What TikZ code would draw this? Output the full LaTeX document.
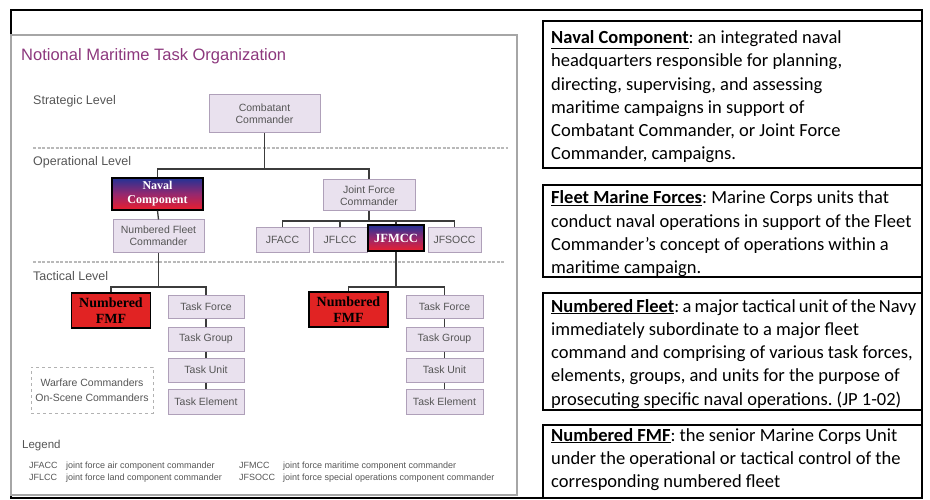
\documentclass[tikz,border=0pt]{standalone}
\usepackage{fontspec}
\setmainfont{Liberation Sans}
\newfontfamily\calib{Carlito}
\newfontfamily\tms{Liberation Serif}
\definecolor{boxfill}{RGB}{233,225,238}
\definecolor{boxdraw}{RGB}{175,160,185}
\definecolor{txtgray}{RGB}{85,85,85}
\definecolor{linegray}{RGB}{60,60,60}
\definecolor{titlepurple}{RGB}{140,55,125}
\definecolor{fmfred}{RGB}{225,35,35}
\definecolor{gblue}{RGB}{35,50,150}
\definecolor{gred}{RGB}{235,30,45}
\definecolor{gmid}{RGB}{150,40,110}
\tikzset{
  pbox/.style={draw=boxdraw, fill=boxfill, line width=1pt, text=txtgray,
    font=\fontsize{10.5}{12}\selectfont, align=center, inner sep=0pt},
  gbox/.style={draw=black, line width=1.2pt, top color=gblue, bottom color=gred,
    middle color=gmid, text=white, font=\tms\bfseries\fontsize{12}{14}\selectfont,
    align=center, inner sep=0pt},
  rbox/.style={draw=black, line width=1.2pt, fill=fmfred, text=black,
    font=\tms\bfseries\fontsize{14}{15.5}\selectfont, align=center, inner sep=0pt},
  conn/.style={draw=linegray, line width=1.3pt},
  defbox/.style={draw=black, line width=1.8pt},
  lvl/.style={anchor=base west, text=txtgray, font=\fontsize{12.5}{14}\selectfont, inner sep=0pt},
  leg/.style={anchor=base west, text=txtgray, font=\fontsize{9}{10}\selectfont, inner sep=0pt},
  sep/.style={draw=gray!55, line width=1.4pt, dash pattern=on 3pt off 1.5pt},
  deftext/.style={anchor=base west, inner sep=0pt, font=\calib\fontsize{18.5}{23.3}\selectfont}
}
\newcommand{\deftxt}[1]{\parbox[t]{420pt}{\frenchspacing\raggedright #1}}
\begin{document}
\begin{tikzpicture}[x=1pt,y=-1pt]
\useasboundingbox (0,0) rectangle (930,500);
% frames
\draw[black, line width=1.2pt] (11,10) rectangle (922,498);
\draw[gray!70, line width=1.3pt] (11,35) rectangle (517,495);

% title and levels
\node[anchor=base west, text=titlepurple, font=\fontsize{16.5}{18}\selectfont, inner sep=0pt] (title) at (21,61) {Notional Maritime Task Organization};
\node[lvl] (lstrat) at (33,105) {Strategic Level};
\node[lvl] (loper) at (33,166) {Operational Level};
\node[lvl] (ltact) at (33,280) {Tactical Level};
\draw[sep] (33,148) -- (508,148);
\draw[sep] (33,262) -- (505,262);

% boxes
\node[pbox, minimum width=111pt, minimum height=38pt] (cc) at (264.5,114) {Combatant\\Commander};
\node[gbox, minimum width=91pt, minimum height=32pt] (nc) at (157.5,194) {Naval\\Component};
\node[pbox, minimum width=92pt, minimum height=31pt] (jfc) at (369,195.5) {Joint Force\\Commander};
\node[pbox, minimum width=91pt, minimum height=32pt] (nfc) at (158.5,236) {Numbered Fleet\\Commander};
\node[pbox, minimum width=53pt, minimum height=24pt] (jfacc) at (282.5,240) {JFACC};
\node[pbox, minimum width=54pt, minimum height=24pt] (jflcc) at (340,240) {JFLCC};
\node[gbox, minimum width=56pt, minimum height=26pt, font=\tms\bfseries\fontsize{12.5}{14}\selectfont] (jfmcc) at (396,238) {JFMCC};
\node[pbox, minimum width=53pt, minimum height=24pt] (jfsocc) at (454.5,240) {JFSOCC};

\node[rbox, minimum width=79pt, minimum height=35pt] (fmfa) at (111,310.5) {Numbered\\FMF};
\node[pbox, minimum width=76pt, minimum height=23pt] (tfa) at (206,306.5) {Task Force};
\node[pbox, minimum width=76pt, minimum height=24pt] (tga) at (206,339) {Task Group};
\node[pbox, minimum width=76pt, minimum height=24pt] (tua) at (206,370) {Task Unit};
\node[pbox, minimum width=76pt, minimum height=25pt] (tea) at (206,401.5) {Task Element};

\node[rbox, minimum width=79pt, minimum height=35pt] (fmfb) at (348.5,309.5) {Numbered\\FMF};
\node[pbox, minimum width=77pt, minimum height=23pt] (tfb) at (444.5,306.5) {Task Force};
\node[pbox, minimum width=77pt, minimum height=24pt] (tgb) at (444.5,339) {Task Group};
\node[pbox, minimum width=77pt, minimum height=24pt] (tub) at (444.5,370) {Task Unit};
\node[pbox, minimum width=77pt, minimum height=25pt] (teb) at (444.5,401.5) {Task Element};

\node[draw=gray!60, dashed, line width=1pt, minimum width=122pt, minimum height=46pt, text=txtgray,
  font=\fontsize{10.5}{15}\selectfont, align=center, inner sep=0pt] (warf) at (92,390) {Warfare Commanders\\On-Scene Commanders};

% connectors
\coordinate (b1) at (264.5,169);
\coordinate (b2) at (369,221);
\coordinate (b3) at (158.5,287);
\coordinate (b4) at (396,287);
\draw[conn] (cc.south) -- (b1);
\draw[conn] (nc.north) |- (b1) -| (jfc.north);
\draw[conn] (nc.south) -- (nfc.north);
\draw[conn] (jfc.south) -- (b2);
\draw[conn] (jfacc.north) |- (b2) -| (jfsocc.north);
\draw[conn] (jflcc.north) -- (jflcc.north |- b2);
\draw[conn] (jfmcc.north) -- (jfmcc.north |- b2);
\draw[conn] (nfc.south) -- (b3);
\draw[conn] (fmfa.north) |- (b3) -| (tfa.north);
\draw[conn] (tfa.south) -- (tga.north);
\draw[conn] (tga.south) -- (tua.north);
\draw[conn] (tua.south) -- (tea.north);
\draw[conn] (jfmcc.south) -- (b4);
\draw[conn] (fmfb.north) |- (b4) -| (tfb.north);
\draw[conn] (tfb.south) -- (tgb.north);
\draw[conn] (tgb.south) -- (tub.north);
\draw[conn] (tub.south) -- (teb.north);

% legend
\node[anchor=base west, text=txtgray, font=\fontsize{11.5}{13}\selectfont, inner sep=0pt] (legend) at (22,448) {Legend};
\node[leg] (l1a) at (29,468) {JFACC};
\node[leg] (l1b) at (66,468) {joint force air component commander};
\node[leg] (l2a) at (29,480) {JFLCC};
\node[leg] (l2b) at (66,480) {joint force land component commander};
\node[leg] (l3a) at (239,468) {JFMCC};
\node[leg] (l3b) at (283,468) {joint force maritime component commander};
\node[leg] (l4a) at (239,480) {JFSOCC};
\node[leg] (l4b) at (283,480) {joint force special operations component commander};

% definition boxes
\draw[defbox] (543,21) rectangle (922,168);
\draw[defbox] (543,185) rectangle (922,277);
\draw[defbox] (543,293) rectangle (922,410);
\draw[defbox] (543,425) rectangle (922,498);
\node[deftext] (d1) at (551,43.5) {\deftxt{\textbf{\underline{Naval Component}}: an integrated naval\\
headquarters responsible for planning,\\
directing, supervising, and assessing\\
maritime campaigns in support of\\
Combatant Commander, or Joint Force\\
Commander, campaigns.}};
\node[deftext] (d2) at (551,204) {\deftxt{\textbf{\underline{Fleet Marine Forces}}: Marine Corps units that\\
conduct naval operations in support of the Fleet\\
Commander’s concept of operations within a\\
maritime campaign.}};
\node[deftext] (d3) at (551,312) {\deftxt{{\spaceskip=3.2pt\textbf{\underline{Numbered Fleet}}: a major tactical unit of the Navy}\\
immediately subordinate to a major fleet\\
command and comprising of various task forces,\\
elements, groups, and units for the purpose of\\
prosecuting specific naval operations. (JP 1-02)}};
\node[deftext] (d4) at (551,441) {\deftxt{\textbf{\underline{Numbered FMF}}: the senior Marine Corps Unit\\
under the operational or tactical control of the\\
corresponding numbered fleet}};
\end{tikzpicture}
\end{document}
